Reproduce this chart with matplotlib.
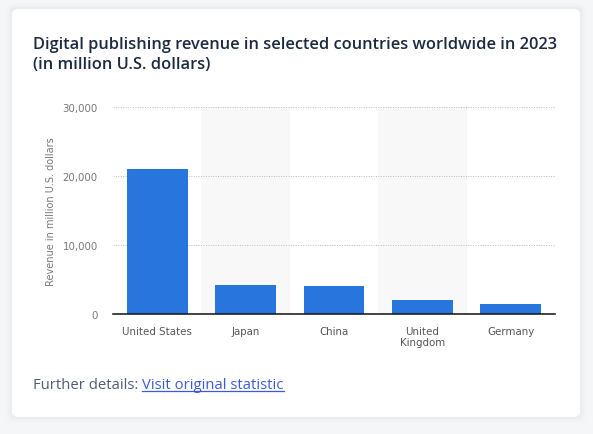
import matplotlib
matplotlib.use("Agg")
import matplotlib.pyplot as plt
from matplotlib.patches import FancyBboxPatch, Rectangle
from matplotlib.ticker import FuncFormatter

categories = ["United States", "Japan", "China", "United\nKingdom", "Germany"]
values = [21050, 4210, 4060, 2030, 1450]
yticks = [0, 10000, 20000, 30000]
title = "Digital publishing revenue in selected countries worldwide in 2023\n(in million U.S. dollars)"
ylabel = "Revenue in million U.S. dollars"

W, H = 593, 435
fig = plt.figure(figsize=(W / 100, H / 100), dpi=100)
fig.patch.set_facecolor("#f5f6f8")

# card with soft shadow
for i, a in enumerate([0.008, 0.012, 0.018]):
    pad = (3 - i) * 2
    fig.patches.append(FancyBboxPatch((12 / W - pad / W, (H - 418) / H - pad / H),
                                      568 / W + 2 * pad / W, 408 / H + 2 * pad / H,
                                      boxstyle="round,pad=0,rounding_size=0.012",
                                      transform=fig.transFigure, facecolor="#000000",
                                      alpha=a, edgecolor="none", zorder=0))
fig.patches.append(FancyBboxPatch((12 / W, (H - 418) / H), 568 / W, 408 / H,
                                  boxstyle="round,pad=0,rounding_size=0.012",
                                  transform=fig.transFigure, facecolor="white",
                                  edgecolor="none", zorder=1))

fig.text(33 / W, 1 - 55 / H, title, fontsize=11.8, fontweight="semibold",
         family="Open Sans", color="#1b2a41", ha="left", va="center",
         linespacing=1.4, zorder=3)

ax = fig.add_axes([113 / W, 1 - 315 / H, 442 / W, 207 / H])
ax.set_zorder(2)
ax.patch.set_alpha(0)
x = list(range(len(categories)))
for i in x:
    if i % 2 == 1:
        ax.add_patch(Rectangle((i - 0.5, 0), 1, 30000, facecolor="#f8f8f8",
                               edgecolor="none", zorder=0))
ax.bar(x, values, width=0.69, color="#2876dd", zorder=2)
ax.set_xlim(-0.5, len(categories) - 0.5)
ax.set_ylim(0, 30000)
ax.set_yticks(yticks)
ax.yaxis.set_major_formatter(FuncFormatter(lambda v, p: f"{int(v):,}"))
ax.grid(axis="y", linestyle=(0, (1, 1.5)), color="#bbbbbb", linewidth=0.7, zorder=1)
ax.set_axisbelow(True)
for s in ["top", "right", "left"]:
    ax.spines[s].set_visible(False)
ax.spines["bottom"].set_color("#111111")
ax.spines["bottom"].set_linewidth(1.1)
ax.spines["bottom"].set_zorder(3)
ax.set_xticks(x)
ax.set_xticklabels(categories, fontsize=7.4, color="#555555", family="DejaVu Sans",
                   linespacing=1.1)
ax.tick_params(axis="x", length=0, pad=9)
ax.tick_params(axis="y", length=0, pad=11, labelsize=7.4, labelcolor="#777777")
ax.set_ylabel(ylabel, fontsize=7, color="#777777")
ax.yaxis.set_label_coords((56 - 113) / 442, 0.5)

t1 = fig.text(33 / W, 1 - 386 / H, "Further details: ", fontsize=10.7,
              family="Open Sans", color="#4e5d73", ha="left", va="center", zorder=3)
fig.canvas.draw()
bb = t1.get_window_extent()
fig.text(bb.x1 / W, 1 - 386 / H, "Visit original statistic", fontsize=10.7,
         family="Open Sans", color="#3a5bd9", ha="left", va="center", zorder=3)
bb2 = fig.texts[-1].get_window_extent(renderer=fig.canvas.get_renderer())
fig.add_artist(plt.Line2D([bb2.x0 / W, bb2.x1 / W], [(bb2.y0 + 1.5) / H] * 2,
                          color="#3a5bd9", linewidth=0.9, transform=fig.transFigure,
                          zorder=3))

fig.savefig("out.png", dpi=100, facecolor=fig.get_facecolor())
